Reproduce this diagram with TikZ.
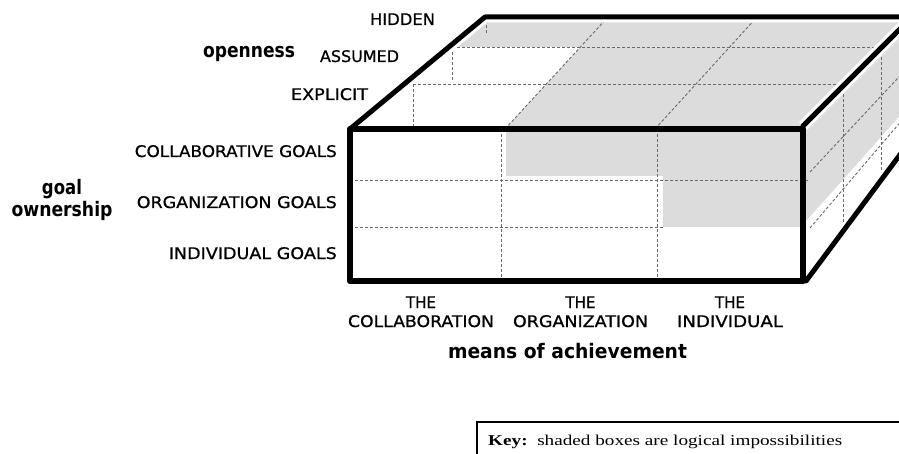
\documentclass[tikz,border=0pt]{standalone}
\usepackage{fontspec}
\usepackage{graphicx}
\newfontfamily\handfont[FakeBold=0.8]{DejaVu Sans}
\newfontfamily\axisfont{DejaVu Sans}
\newfontfamily\keyfont{Liberation Serif}
% set a label to a given width, keeping its natural height
\newcommand{\fitw}[2]{\resizebox{#1}{\height}{#2}}

\definecolor{cellgray}{RGB}{220,220,220}
\definecolor{gridline}{RGB}{105,105,105}

\begin{document}
\begin{tikzpicture}[x=1pt,y=-1pt,
  edge/.style={line width=5pt, line cap=round, line join=round},
  frontedge/.style={line width=6.5pt, line join=round},
  halo/.style={white, line width=11pt},
  grid/.style={gridline, line width=0.9pt, dash pattern=on 3pt off 2pt},
  cell/.style={fill=cellgray, draw=none},
  caps/.style={inner sep=0pt, font=\handfont\fontsize{16}{19}\selectfont},
  axis/.style={inner sep=0pt, font=\axisfont\bfseries\fontsize{20}{24}\selectfont},
  keytext/.style={inner sep=0pt, font=\keyfont\fontsize{15}{18}\selectfont},
]
\useasboundingbox (0,0) rectangle (899,454);
\clip (0,0) rectangle (899,454);

% corners of the cube
\coordinate (ftl) at (350,129);
\coordinate (ftr) at (803,129);
\coordinate (fbl) at (350,281);
\coordinate (fbr) at (803,281);
\coordinate (btl) at (485,17);
\coordinate (btr) at (910,17);
\coordinate (rtop) at (917,12);
\coordinate (rbot) at (915,134.5);

% shaded cells: top face
\path[cell] (485,17) -- (905,17) -- (905,24) -- (803,126) -- (803,129)
  -- (505,129) -- (580.7,47) -- (449,47) -- cycle;
% shaded cells: right face
\path[cell] (803,126) -- (905,24) -- (905,110) -- (807,220) -- (803,220) -- cycle;
% shaded cells: front face
\path[cell] (506,129) -- (803,129) -- (803,227) -- (663,227) -- (663,176)
  -- (506,176) -- cycle;

% front face grid
\draw[grid] (501,129) -- (501,281);
\draw[grid] (657,129) -- (657,281);
\draw[grid] (350,180) -- (808,180);
\draw[grid] (350,227) -- (663,227);
% top face grid
\draw[grid] (452,47) -- (881,47);
\draw[grid] (413,84) -- (844,84);
\draw[grid] (505,129) -- (608,17);
\draw[grid] (655,129) -- (757,17);
\draw[grid] (486,20) -- (486,33);
\draw[grid] (452,47) -- (452,82);
\draw[grid] (413,84) -- (413,127);
% right face grid
\draw[grid] (843,84) -- (843,223);
\draw[grid] (881,47) -- (881,172);
\draw[grid] (810,172) -- (905,70.5);
\draw[grid] (810,228) -- (905,116.7);

% outline of the cube
\draw[halo] (ftl) -- (btl) -- (btr);
\draw[halo] (ftr) ++(0,-3) -- (rtop);
\draw[edge] (ftl) -- (btl) -- (btr);
\draw[edge] (ftr) ++(0,-3) -- (rtop);
\draw[edge] (806,281) -- (rbot);
\draw[frontedge] (ftl) rectangle (fbr);

% openness levels
\node[caps, anchor=base] (hidden) at (402.5,25) {\fitw{65pt}{HIDDEN}};
\node[caps, anchor=base] (assumed) at (359.5,62) {\fitw{79pt}{ASSUMED}};
\node[caps, anchor=base] (explicit) at (329.5,100) {\fitw{77pt}{EXPLICIT}};
\node[axis, anchor=base] (openness) at (249,58) {\fitw{92pt}{openness}};

% goal ownership levels
\node[caps, anchor=base east] (collgoals) at (337,157) {\fitw{202pt}{COLLABORATIVE GOALS}};
\node[caps, anchor=base east] (orggoals) at (337,208) {\fitw{200pt}{ORGANIZATION GOALS}};
\node[caps, anchor=base east] (indgoals) at (337,259) {\fitw{168pt}{INDIVIDUAL GOALS}};
\node[axis, anchor=base] (goal) at (62,195) {\fitw{40pt}{goal}};
\node[axis, anchor=base] (ownership) at (62,217) {\fitw{101pt}{ownership}};

% means of achievement
\node[caps, anchor=base] (the1) at (421,308) {\fitw{30pt}{THE}};
\node[caps, anchor=base] (collab) at (421,327) {\fitw{146pt}{COLLABORATION}};
\node[caps, anchor=base] (the2) at (580.5,308) {\fitw{30pt}{THE}};
\node[caps, anchor=base] (org) at (580.5,327) {\fitw{135pt}{ORGANIZATION}};
\node[caps, anchor=base] (the3) at (730,308) {\fitw{30pt}{THE}};
\node[caps, anchor=base] (indiv) at (730,327) {\fitw{106pt}{INDIVIDUAL}};
\node[axis, anchor=base] (means) at (567.5,358) {\fitw{239pt}{means of achievement}};

% key
\draw[line width=1.2pt] (477,460) -- (477,422) -- (905,422);
\node[keytext, anchor=base west] (key) at (488,445)
  {\fitw{354pt}{\textbf{Key:}\ \ shaded boxes are logical impossibilities}};
\end{tikzpicture}
\end{document}
